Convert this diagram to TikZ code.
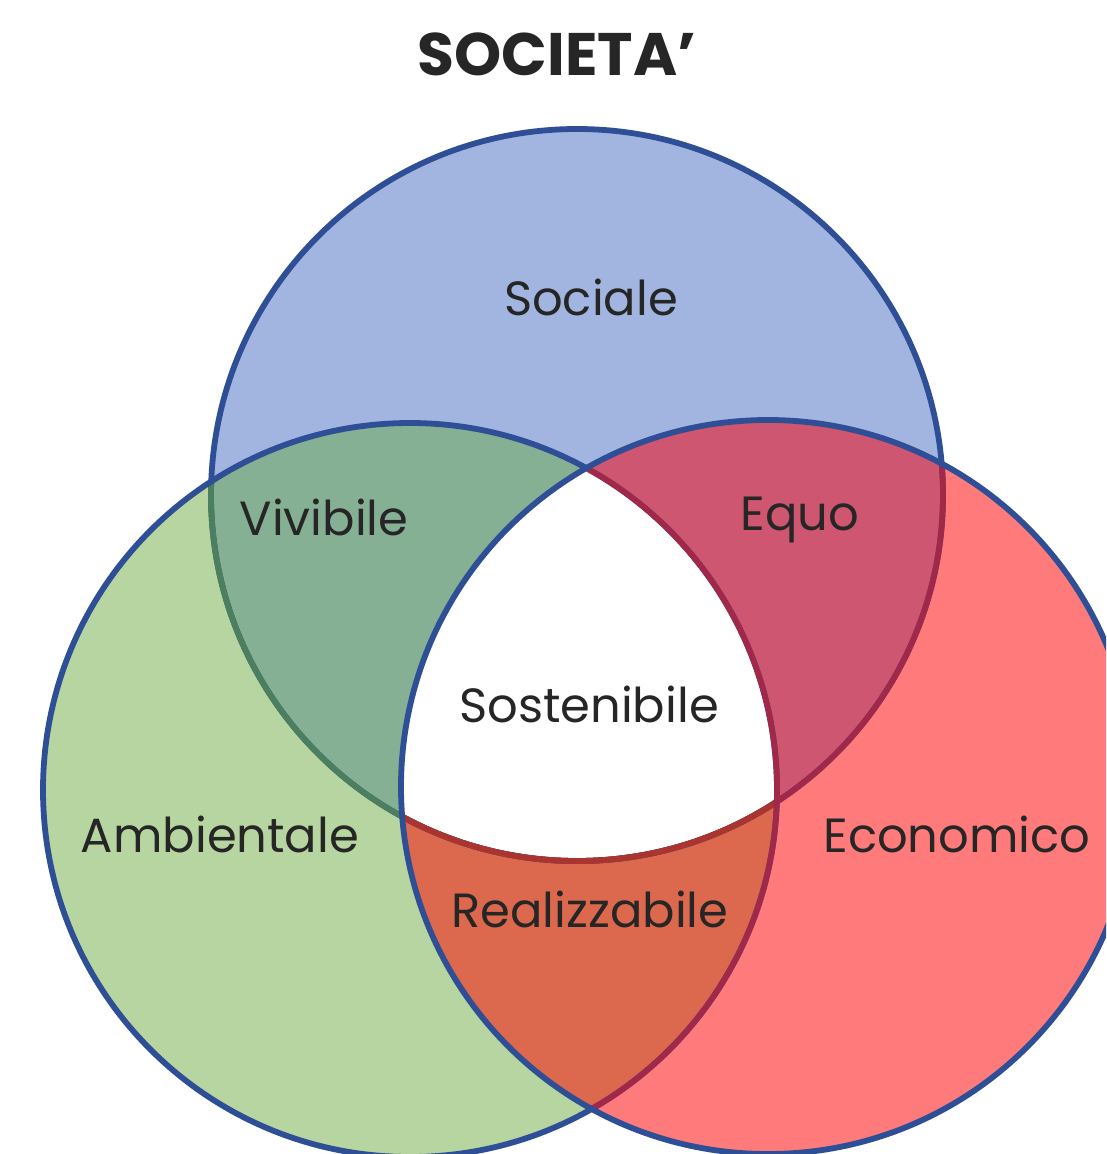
\documentclass[tikz,border=0pt]{standalone}
\usepackage{fontspec}
\setmainfont{Poppins}
\definecolor{cblue}{HTML}{A1B5E0}
\definecolor{cgreen}{HTML}{B7D5A0}
\definecolor{cred}{HTML}{FF7B7B}
\definecolor{cbg}{HTML}{86B094}
\definecolor{cbr}{HTML}{CE5670}
\definecolor{cgr}{HTML}{DC684D}
\definecolor{lblue}{HTML}{2E4F96}
\definecolor{lgreen}{HTML}{4C7F5E}
\definecolor{lred}{HTML}{A2284A}
\definecolor{lbrown}{HTML}{AA3430}
\definecolor{txt}{HTML}{262626}
\tikzset{
  outline/.style={line width=5.8pt},
  lbl/.style={anchor=base, inner sep=0pt, text=txt, font=\fontsize{48}{52}\selectfont},
  ttl/.style={anchor=base, inner sep=0pt, text=txt, font=\fontsize{60}{64}\selectfont\bfseries},
}
\begin{document}
\begin{tikzpicture}[x=1pt,y=-1pt]
\useasboundingbox (0,0) rectangle (1106,1154);
\clip (0,0) rectangle (1106,1154);
\fill[white] (0,0) rectangle (1106,1154);
\coordinate (B) at (577,495);
\coordinate (G) at (410,790);
\coordinate (R) at (768,787);
\def\rB{366pt}\def\rG{367pt}\def\rR{367pt}
% base fills
\fill[cblue] (B) circle[radius=\rB];
\fill[cgreen] (G) circle[radius=\rG];
\fill[cred] (R) circle[radius=\rR];
% pairwise intersections
\begin{scope}\clip (B) circle[radius=\rB]; \fill[cbg] (G) circle[radius=\rG];\end{scope}
\begin{scope}\clip (B) circle[radius=\rB]; \fill[cbr] (R) circle[radius=\rR];\end{scope}
\begin{scope}\clip (G) circle[radius=\rG]; \fill[cgr] (R) circle[radius=\rR];\end{scope}
% triple intersection
\begin{scope}\clip (B) circle[radius=\rB]; \clip (G) circle[radius=\rG]; \fill[white] (R) circle[radius=\rR];\end{scope}
% outline of blue circle
\draw[outline, lblue] (B) circle[radius=\rB];
\begin{scope}\clip (G) circle[radius=\rG]; \draw[outline, lgreen] (B) circle[radius=\rB];\end{scope}
\begin{scope}\clip (R) circle[radius=\rR]; \draw[outline, lred] (B) circle[radius=\rB];\end{scope}
\begin{scope}\clip (G) circle[radius=\rG]; \clip (R) circle[radius=\rR]; \draw[outline, lbrown] (B) circle[radius=\rB];\end{scope}
% outline of green circle
\draw[outline, lblue] (G) circle[radius=\rG];
\begin{scope}\clip (R) circle[radius=\rR]; \draw[outline, lred] (G) circle[radius=\rG];\end{scope}
% outline of red circle
\draw[outline, lblue] (R) circle[radius=\rR];
% labels
\node[ttl] (title) at (557,75) {SOCIETA’};
\node[lbl] (sociale) at (591,315) {Sociale};
\node[lbl] (vivibile) at (324,535) {Vivibile};
\node[lbl] (equo) at (800,530) {Equo};
\node[lbl] (sost) at (589,722) {Sostenibile};
\node[lbl] (amb) at (220,852) {Ambientale};
\node[lbl] (eco) at (957,852) {Economico};
\node[lbl] (real) at (590,927) {Realizzabile};
\end{tikzpicture}
\end{document}
